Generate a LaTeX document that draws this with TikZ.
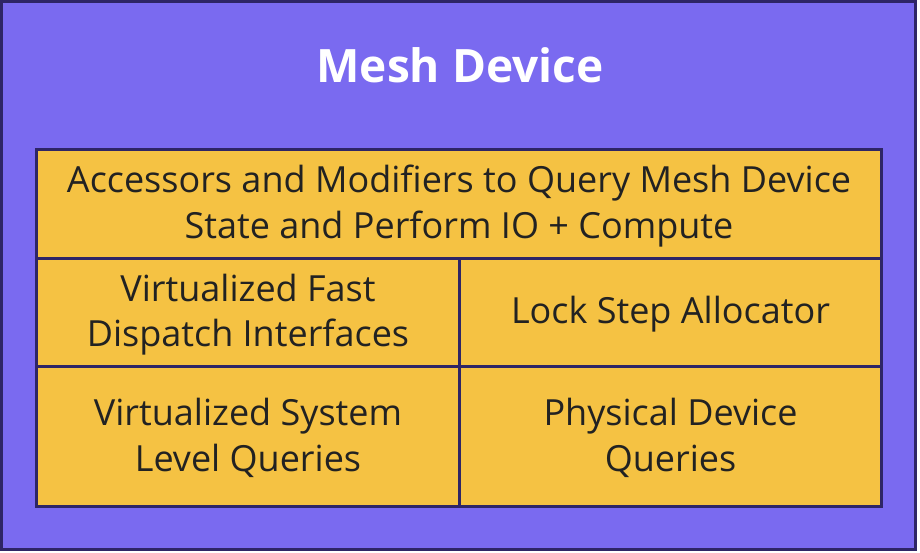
\documentclass[tikz,border=0pt]{standalone}
\usepackage{fontspec}
\setmainfont{Open Sans}
\definecolor{meshpurple}{HTML}{7A6AF0}
\definecolor{meshborder}{HTML}{2E2566}
\definecolor{meshyellow}{HTML}{F5C243}
\definecolor{meshtext}{HTML}{222222}
\begin{document}
\begin{tikzpicture}[x=1pt,y=-1pt,
  outerbox/.style={draw=meshborder,fill=meshpurple,line width=3pt},
  cellbox/.style={draw=meshborder,fill=meshyellow,line width=2.7pt},
  celltext/.style={text=meshtext,align=center,font=\fontsize{36}{45.5}\selectfont,inner sep=0pt},
  titletext/.style={text=white,font=\bfseries\fontsize{46}{50}\selectfont,inner sep=0pt}]
\path[use as bounding box] (0,0) rectangle (920,552);
\draw[outerbox] (1.5,1.5) rectangle (915.5,549.5);
\node[titletext] (title) at (460,65) {Mesh Device};
\draw[cellbox] (36.5,149.5) rectangle (881.5,258.5);
\draw[cellbox] (36.5,258.5) rectangle (459.5,366.3);
\draw[cellbox] (459.5,258.5) rectangle (881.5,366.3);
\draw[cellbox] (36.5,366.3) rectangle (459.5,506.3);
\draw[cellbox] (459.5,366.3) rectangle (881.5,506.3);
\node[celltext] (acc) at (459,206) {Accessors and Modifiers to Query Mesh Device\\State and Perform IO + Compute};
\node[celltext] (vfd) at (248,314.5) {Virtualized Fast\\Dispatch Interfaces};
\node[celltext] (lsa) at (670.5,314.5) {Lock Step Allocator};
\node[celltext] (vsl) at (248,438) {Virtualized System\\Level Queries};
\node[celltext] (pdq) at (670.5,438) {Physical Device\\Queries};
\end{tikzpicture}
\end{document}
